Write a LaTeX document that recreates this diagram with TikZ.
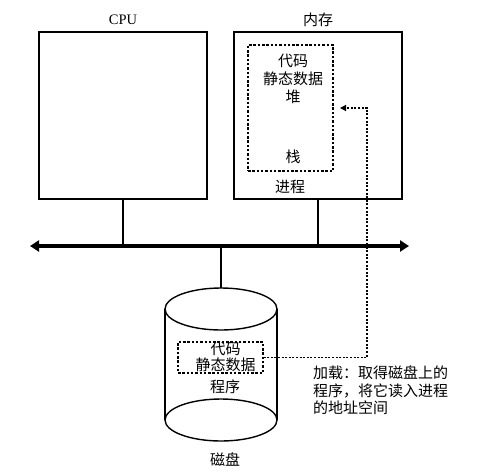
\documentclass[tikz,border=0pt]{standalone}
\usepackage{fontspec}
\setmainfont{Liberation Serif}
\newfontfamily\cjk{Noto Sans CJK SC}
\usepackage{tikz}
\usetikzlibrary{arrows.meta,positioning,calc}
\tikzstyle{hwbox} = [draw, rectangle, line width=1.4pt, minimum width=168pt, minimum height=167pt, inner sep=0]
\tikzstyle{region} = [draw, rectangle, dash pattern=on 2.5pt off 1.8pt, line width=1.1pt, inner sep=0]
\tikzstyle{txt} = [inner sep=0, align=center, font=\cjk\fontsize{15}{18}\selectfont]
\tikzstyle{link} = [line width=2.8pt]
\tikzstyle{loadline} = [dash pattern=on 2pt off 1.6pt, line width=1.3pt]

\begin{document}
\begin{tikzpicture}[x=1pt,y=-1pt]
    \useasboundingbox (0,0) rectangle (479,472);
    % CPU and memory
    \node[hwbox] (cpu) at (123,115.5) {};
    \node[inner sep=0,font=\fontsize{14.5}{16}\selectfont] (cpu label) at (123,20) {CPU};
    \node[hwbox] (mem) at (318,115.5) {};
    \node[txt] (mem label) at (318,20) {内存};
    % Process in memory
    \node[region,minimum width=85pt,minimum height=126pt] (proc) at (290.5,108) {};
    \node[txt] (proc text) at (293,79) {代码\\静态数据\\堆};
    \node[txt] (stack) at (293,157) {栈};
    \node[txt] (proc label) at (290,187) {进程};
    % Bus
    \coordinate (busL) at (30,246);
    \coordinate (busR) at (409,246);
    \draw[line width=4pt,{Triangle[length=9pt,width=11pt]}-{Triangle[length=9pt,width=11pt]}] (busL) -- (busR);
    \draw[link] (cpu.south) -- (cpu.south |- busL);
    \draw[link] (mem.south) -- (mem.south |- busL);
    % Disk
    \coordinate (disktop) at (221,288);
    \draw[link] (disktop) -- (disktop |- busL);
    \draw[line width=1.4pt] (221,309) ellipse[x radius=56,y radius=21];
    \draw[line width=1.4pt] (221,420) ellipse[x radius=56,y radius=21];
    \draw[line width=1.4pt] (165,309) -- (165,420) (277,309) -- (277,420);
    \node[region,minimum width=85pt,minimum height=31pt] (prog) at (220.5,357.5) {};
    \node[txt,font=\cjk\fontsize{15}{16}\selectfont] (prog text) at (225.5,357) {代码\\静态数据};
    \node[txt] (prog label) at (225,387) {程序};
    \node[txt] (disk label) at (225,460) {磁盘};
    % Loading
    \coordinate (loadturn) at (367,357.5);
    \coordinate (loadend) at (340,108);
    \draw[loadline,-{Triangle[length=6pt,width=6pt]}] (prog.east) -- (loadturn) |- (loadend);
    \node[txt,align=left,anchor=north west,font=\cjk\fontsize{15}{17.5}\selectfont] (load text) at (313,366) {加载：取得磁盘上的\\程序，将它读入进程\\的地址空间};
\end{tikzpicture}
\end{document}
